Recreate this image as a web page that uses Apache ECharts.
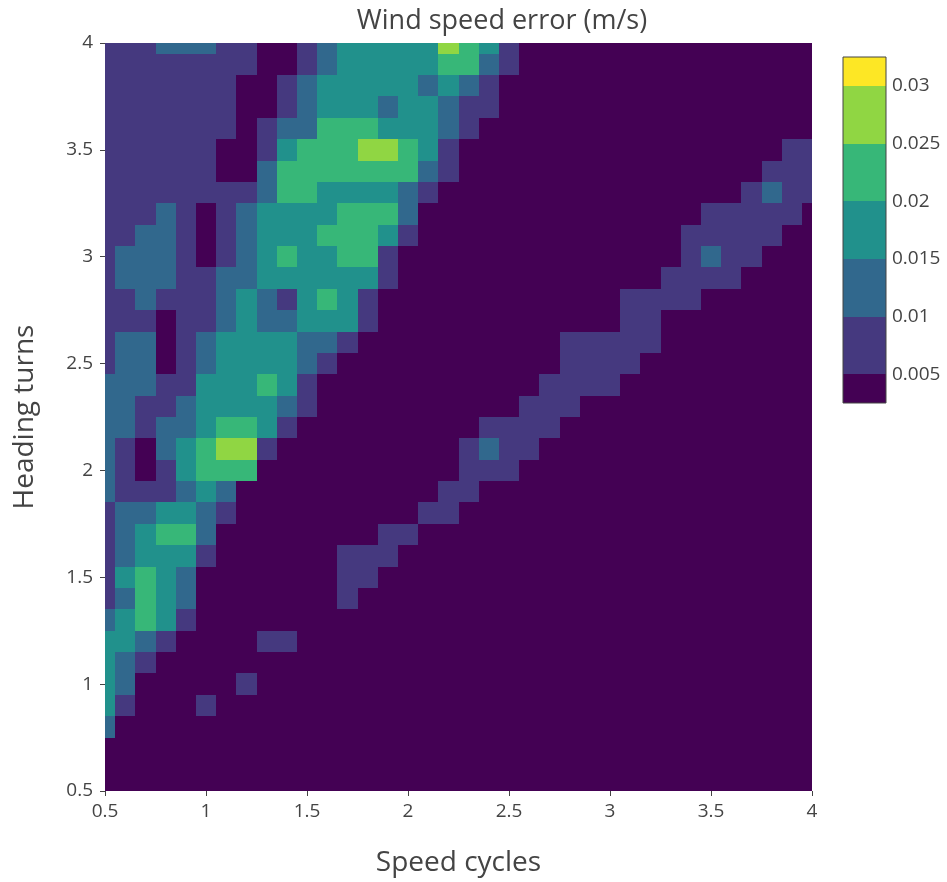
<!DOCTYPE html>
<html>
<head>
<meta charset="utf-8">
<title>Wind speed error</title>
<script src="https://cdn.jsdelivr.net/npm/echarts@6.0.0/dist/echarts.min.js"></script>
<style>
  html, body { margin: 0; padding: 0; background: #fff; }
  #chart { width: 947px; height: 882px; }
</style>
</head>
<body>
<div id="chart"></div>
<script>
// grid coordinates of the contour data
const speedCycles = [0.5, 0.6, 0.7, 0.8, 0.9, 1.0, 1.1, 1.2, 1.3, 1.4, 1.5, 1.6, 1.7, 1.8, 1.9, 2.0, 2.1, 2.2,
  2.3, 2.4, 2.5, 2.6, 2.7, 2.8, 2.9, 3.0, 3.1, 3.2, 3.3, 3.4, 3.5, 3.6, 3.7, 3.8, 3.9, 4.0];
const headingTurns = [0.5, 0.6, 0.7, 0.8, 0.9, 1.0, 1.1, 1.2, 1.3, 1.4, 1.5, 1.6, 1.7, 1.8, 1.9, 2.0, 2.1, 2.2,
  2.3, 2.4, 2.5, 2.6, 2.7, 2.8, 2.9, 3.0, 3.1, 3.2, 3.3, 3.4, 3.5, 3.6, 3.7, 3.8, 3.9, 4.0];

// contour levels and the colorbar range
const contourLevels = [0.005, 0.01, 0.015, 0.02, 0.025, 0.03];
const colorbarRange = [0.0025, 0.0325];
// typical value (m/s) inside each band, band 0 = below 0.005 ... band 6 = above 0.03
const bandValue = [0.0035, 0.0075, 0.0125, 0.0175, 0.0225, 0.0275, 0.031];
const bandColors = ['#440154', '#45397f', '#31688d', '#21918c', '#37b778', '#90d643', '#fde725'];

// band read at each grid point, rows from heading 4.0 (top) down to 0.5, columns speed 0.5 .. 4.0
const bandRows = [
  [1,1,1,2,2,2,1,1,0,0,1,2,3,3,3,3,3,5,4,3,1,0,0,0,0,0,0,0,0,0,0,0,0,0,0,0], // 4.0
  [1,1,1,1,1,1,1,1,0,0,1,2,3,3,3,3,3,4,4,2,1,0,0,0,0,0,0,0,0,0,0,0,0,0,0,0], // 3.9
  [1,1,1,1,1,1,1,0,0,1,2,3,3,3,3,3,2,3,2,1,0,0,0,0,0,0,0,0,0,0,0,0,0,0,0,0], // 3.8
  [1,1,1,1,1,1,1,0,0,1,2,3,3,3,2,3,3,2,1,1,0,0,0,0,0,0,0,0,0,0,0,0,0,0,0,0], // 3.7
  [1,1,1,1,1,1,1,0,1,2,2,4,4,4,3,3,3,2,1,0,0,0,0,0,0,0,0,0,0,0,0,0,0,0,0,0], // 3.6
  [1,1,1,1,1,1,0,0,1,3,4,4,4,5,5,4,3,1,0,0,0,0,0,0,0,0,0,0,0,0,0,0,0,0,1,1], // 3.5
  [1,1,1,1,1,1,0,0,2,4,4,4,4,4,4,4,2,1,0,0,0,0,0,0,0,0,0,0,0,0,0,0,0,1,1,1], // 3.4
  [1,1,1,1,1,1,1,1,2,4,4,3,3,3,3,2,1,0,0,0,0,0,0,0,0,0,0,0,0,0,0,0,1,2,1,1], // 3.3
  [1,1,1,2,1,0,1,2,3,3,3,3,4,4,4,2,0,0,0,0,0,0,0,0,0,0,0,0,0,0,1,1,1,1,1,0], // 3.2
  [1,1,2,2,1,0,1,2,3,3,3,4,4,4,3,1,0,0,0,0,0,0,0,0,0,0,0,0,0,1,1,1,1,1,0,0], // 3.1
  [1,2,2,2,1,0,1,2,3,4,3,3,4,4,1,0,0,0,0,0,0,0,0,0,0,0,0,0,0,1,2,1,1,0,0,0], // 3.0
  [1,2,2,2,1,1,2,2,3,3,3,3,3,3,1,0,0,0,0,0,0,0,0,0,0,0,0,0,1,1,1,1,0,0,0,0], // 2.9
  [1,1,2,1,1,1,2,3,2,1,3,4,3,1,0,0,0,0,0,0,0,0,0,0,0,0,1,1,1,1,0,0,0,0,0,0], // 2.8
  [1,1,1,0,1,1,2,3,2,2,3,3,3,1,0,0,0,0,0,0,0,0,0,0,0,0,1,1,0,0,0,0,0,0,0,0], // 2.7
  [1,2,2,0,1,2,3,3,3,3,2,2,1,0,0,0,0,0,0,0,0,0,0,1,1,1,1,1,0,0,0,0,0,0,0,0], // 2.6
  [1,2,2,0,1,2,3,3,3,3,2,1,0,0,0,0,0,0,0,0,0,0,0,1,1,1,1,0,0,0,0,0,0,0,0,0], // 2.5
  [2,2,2,1,1,3,3,3,4,3,1,0,0,0,0,0,0,0,0,0,0,0,1,1,1,1,0,0,0,0,0,0,0,0,0,0], // 2.4
  [2,2,1,1,2,3,3,3,3,2,1,0,0,0,0,0,0,0,0,0,0,1,1,1,0,0,0,0,0,0,0,0,0,0,0,0], // 2.3
  [2,2,1,2,2,3,4,4,3,1,0,0,0,0,0,0,0,0,0,1,1,1,1,0,0,0,0,0,0,0,0,0,0,0,0,0], // 2.2
  [2,1,0,2,3,4,5,5,1,0,0,0,0,0,0,0,0,0,1,2,1,1,0,0,0,0,0,0,0,0,0,0,0,0,0,0], // 2.1
  [2,1,0,1,3,4,4,4,0,0,0,0,0,0,0,0,0,0,1,1,1,0,0,0,0,0,0,0,0,0,0,0,0,0,0,0], // 2.0
  [2,1,1,1,2,3,2,0,0,0,0,0,0,0,0,0,0,1,1,0,0,0,0,0,0,0,0,0,0,0,0,0,0,0,0,0], // 1.9
  [1,2,2,3,3,2,1,0,0,0,0,0,0,0,0,0,1,1,0,0,0,0,0,0,0,0,0,0,0,0,0,0,0,0,0,0], // 1.8
  [1,2,3,4,4,2,0,0,0,0,0,0,0,0,1,1,0,0,0,0,0,0,0,0,0,0,0,0,0,0,0,0,0,0,0,0], // 1.7
  [1,2,3,3,3,1,0,0,0,0,0,0,1,1,1,0,0,0,0,0,0,0,0,0,0,0,0,0,0,0,0,0,0,0,0,0], // 1.6
  [1,3,4,3,2,0,0,0,0,0,0,0,1,1,0,0,0,0,0,0,0,0,0,0,0,0,0,0,0,0,0,0,0,0,0,0], // 1.5
  [1,2,4,3,2,0,0,0,0,0,0,0,1,0,0,0,0,0,0,0,0,0,0,0,0,0,0,0,0,0,0,0,0,0,0,0], // 1.4
  [2,3,4,3,1,0,0,0,0,0,0,0,0,0,0,0,0,0,0,0,0,0,0,0,0,0,0,0,0,0,0,0,0,0,0,0], // 1.3
  [3,3,2,1,0,0,0,0,1,1,0,0,0,0,0,0,0,0,0,0,0,0,0,0,0,0,0,0,0,0,0,0,0,0,0,0], // 1.2
  [3,2,1,0,0,0,0,0,0,0,0,0,0,0,0,0,0,0,0,0,0,0,0,0,0,0,0,0,0,0,0,0,0,0,0,0], // 1.1
  [3,2,0,0,0,0,0,1,0,0,0,0,0,0,0,0,0,0,0,0,0,0,0,0,0,0,0,0,0,0,0,0,0,0,0,0], // 1.0
  [3,1,0,0,0,1,0,0,0,0,0,0,0,0,0,0,0,0,0,0,0,0,0,0,0,0,0,0,0,0,0,0,0,0,0,0], // 0.9
  [2,0,0,0,0,0,0,0,0,0,0,0,0,0,0,0,0,0,0,0,0,0,0,0,0,0,0,0,0,0,0,0,0,0,0,0], // 0.8
  [0,0,0,0,0,0,0,0,0,0,0,0,0,0,0,0,0,0,0,0,0,0,0,0,0,0,0,0,0,0,0,0,0,0,0,0], // 0.7
  [0,0,0,0,0,0,0,0,0,0,0,0,0,0,0,0,0,0,0,0,0,0,0,0,0,0,0,0,0,0,0,0,0,0,0,0], // 0.6
  [0,0,0,0,0,0,0,0,0,0,0,0,0,0,0,0,0,0,0,0,0,0,0,0,0,0,0,0,0,0,0,0,0,0,0,0]  // 0.5
];

const FONT = '"Open Sans", "DejaVu Sans", sans-serif';
const TEXT = '#444';

// [speed, heading, error]
const cells = [];
bandRows.forEach((row, r) => {
  const y = headingTurns[headingTurns.length - 1 - r];
  row.forEach((b, c) => cells.push([speedCycles[c], y, bandValue[b]]));
});
const xStep = speedCycles[1] - speedCycles[0];
const yStep = headingTurns[1] - headingTurns[0];

// colorbar bands [low, high, mid]
const edges = [colorbarRange[0]].concat(contourLevels, [colorbarRange[1]]);
const colorbarBands = edges.slice(0, -1).map((lo, i) => [lo, edges[i + 1], (lo + edges[i + 1]) / 2]);

const pieces = bandColors.map((color, i) => {
  const p = { color: color };
  if (i > 0) p.gte = contourLevels[i - 1];
  if (i < contourLevels.length) p.lt = contourLevels[i];
  return p;
});

function renderCell(params, api) {
  const x = api.value(0), y = api.value(1);
  const p0 = api.coord([x - xStep / 2, y + yStep / 2]);
  const p1 = api.coord([x + xStep / 2, y - yStep / 2]);
  // snap to whole pixels so neighbouring cells meet without seams
  const x0 = Math.round(p0[0]), y0 = Math.round(p0[1]);
  const rect = echarts.graphic.clipRectByRect(
    { x: x0, y: y0, width: Math.round(p1[0]) - x0, height: Math.round(p1[1]) - y0 },
    { x: params.coordSys.x, y: params.coordSys.y, width: params.coordSys.width, height: params.coordSys.height }
  );
  if (!rect) return;
  return { type: 'rect', shape: rect, style: { fill: api.visual('color') } };
}

function renderBand(params, api) {
  const p0 = api.coord([0, api.value(1)]);
  const p1 = api.coord([1, api.value(0)]);
  const y0 = Math.round(p0[1]);
  return {
    type: 'rect',
    shape: { x: p0[0], y: y0, width: p1[0] - p0[0], height: Math.round(p1[1]) - y0 },
    style: { fill: api.visual('color') }
  };
}

const myChart = echarts.init(document.getElementById('chart'), null, { renderer: 'canvas' });
myChart.setOption({
  animation: false,
  backgroundColor: '#fff',
  title: {
    text: 'Wind speed error (m/s)',
    left: 497,
    top: 3,
    textAlign: 'center',
    textStyle: { fontFamily: FONT, fontSize: 27, fontWeight: 'normal', color: TEXT }
  },
  grid: [
    { left: 105, top: 43, width: 707, height: 749 },
    { left: 843, top: 57, width: 43, height: 346, show: true, z: 5,
      borderColor: '#444', borderWidth: 1, backgroundColor: 'transparent' }
  ],
  xAxis: [
    {
      type: 'value', gridIndex: 0, min: 0.5, max: 4, interval: 0.5,
      name: 'Speed cycles', nameLocation: 'middle', nameGap: 58,
      nameTextStyle: { fontFamily: FONT, fontSize: 28, color: TEXT },
      axisLine: { show: false },
      axisTick: { show: true, length: 5, lineStyle: { color: TEXT } },
      axisLabel: { color: TEXT, fontFamily: FONT, fontSize: 19, margin: 11 },
      splitLine: { show: false }
    },
    { type: 'value', gridIndex: 1, min: 0, max: 1, show: false }
  ],
  yAxis: [
    {
      type: 'value', gridIndex: 0, min: 0.5, max: 4, interval: 0.5,
      name: 'Heading turns', nameLocation: 'middle', nameGap: 66,
      nameTextStyle: { fontFamily: FONT, fontSize: 28, color: TEXT },
      axisLine: { show: false },
      axisTick: { show: true, length: 5, lineStyle: { color: TEXT } },
      axisLabel: { color: TEXT, fontFamily: FONT, fontSize: 19, margin: 12 },
      splitLine: { show: false }
    },
    {
      type: 'value', gridIndex: 1, position: 'right',
      min: colorbarRange[0], max: colorbarRange[1],
      axisLine: { show: false },
      axisTick: { show: true, length: 3, customValues: contourLevels, lineStyle: { color: TEXT } },
      axisLabel: { color: TEXT, fontFamily: FONT, fontSize: 19, margin: 6, customValues: contourLevels },
      splitLine: { show: false }
    }
  ],
  visualMap: {
    type: 'piecewise',
    show: false,
    dimension: 2,
    seriesIndex: [0, 1],
    pieces: pieces
  },
  series: [
    {
      name: 'Wind speed error',
      type: 'custom',
      xAxisIndex: 0,
      yAxisIndex: 0,
      renderItem: renderCell,
      data: cells
    },
    {
      name: 'colorbar',
      type: 'custom',
      xAxisIndex: 1,
      yAxisIndex: 1,
      renderItem: renderBand,
      data: colorbarBands
    }
  ]
});
</script>
</body>
</html>
